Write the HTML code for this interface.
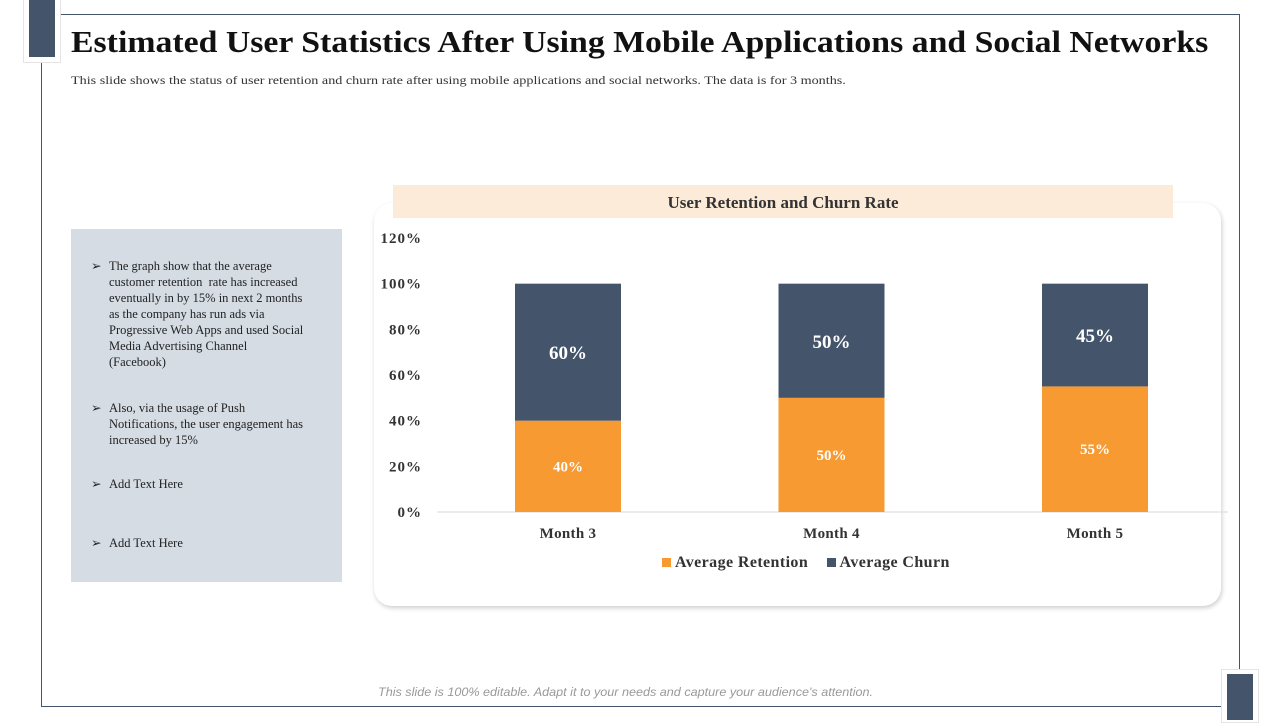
<!DOCTYPE html>
<html><head><meta charset="utf-8"><style>
body{margin:0;width:1280px;height:720px;position:relative;background:#fff;font-family:"Liberation Serif",serif;overflow:hidden}
.abs{position:absolute}
</style></head><body>
<div class="abs" style="left:41px;top:14px;width:1197px;height:691px;border:1px solid #44546a"></div>
<div class="abs" style="left:23px;top:0;width:36px;height:62px;background:#fff;border:1px solid #e4e4e4;border-top:none"></div>
<div class="abs" style="left:29px;top:0;width:26px;height:57px;background:#44546a"></div>
<div class="abs" style="left:1221px;top:669px;width:36px;height:52px;background:#fff;border:1px solid #e4e4e4"></div>
<div class="abs" style="left:1227px;top:674px;width:26px;height:46px;background:#44546a"></div>
<div class="abs" style="left:71px;top:24px;font-size:31px;font-weight:bold;color:#111;white-space:nowrap;transform:scaleX(1.09);transform-origin:left">Estimated User Statistics After Using Mobile Applications and Social Networks</div>
<div class="abs" style="left:71px;top:73px;font-size:12px;color:#333;white-space:nowrap;transform:scaleX(1.18);transform-origin:left">This slide shows the status of user retention and churn rate after using mobile applications and social networks. The data is for 3 months.</div>
<div class="abs" style="left:71px;top:229px;width:271px;height:353px;background:#d6dce4;font-size:12.5px;color:#222;line-height:16px">
 <div class="abs" style="left:20px;top:29px;width:195px;padding-left:18px">
  <span style="position:absolute;left:0">➢</span>The graph show that the average customer retention&nbsp; rate has increased eventually in by 15% in next 2 months as the company has run ads via Progressive Web Apps and used Social Media Advertising Channel (Facebook)</div>
 <div class="abs" style="left:20px;top:171px;width:195px;padding-left:18px"><span style="position:absolute;left:0">➢</span>Also, via the usage of Push Notifications, the user engagement has increased by 15%</div>
 <div class="abs" style="left:20px;top:247px;width:195px;padding-left:18px"><span style="position:absolute;left:0">➢</span>Add Text Here</div>
 <div class="abs" style="left:20px;top:306px;width:195px;padding-left:18px"><span style="position:absolute;left:0">➢</span>Add Text Here</div>
</div>
<div class="abs" style="left:374px;top:203px;width:847px;height:403px;border-radius:18px;box-shadow:1px 2px 5px rgba(0,0,0,0.2);background:#fff"></div>
<div class="abs" style="left:393px;top:185px;width:780px;height:33px;background:#fdebd9;text-align:center;line-height:35px;font-size:17px;font-weight:bold;color:#333">User Retention and Churn Rate</div>
<svg class="abs" style="left:0;top:0" width="1280" height="720" id="chart"></svg>
<div class="abs" style="left:662px;top:554px;font-size:16px;letter-spacing:0.4px;font-weight:bold;color:#333;white-space:nowrap">
 <span><span style="display:inline-block;width:9px;height:9px;background:#f79a32;margin-right:4px"></span>Average Retention</span>
 <span style="margin-left:14px"><span style="display:inline-block;width:9px;height:9px;background:#44546a;margin-right:4px"></span>Average Churn</span>
</div>
<div class="abs" style="left:378px;top:685px;font-family:'Liberation Sans',sans-serif;font-style:italic;font-size:12px;color:#999;transform:scaleX(1.05);transform-origin:left;white-space:nowrap">This slide is 100% editable. Adapt it to your needs and capture your audience's attention.</div>
<script>
const categories=["Month 3","Month 4","Month 5"];
const retention=[40,50,55];
const churn=[60,50,45];
const ticks=[0,20,40,60,80,100,120];
const svg=document.getElementById('chart');
const NS='http://www.w3.org/2000/svg';
const y=v=>512-v*(274/120);
const xc=i=>568+i*263.5;
function mk(t,a,txt){const e=document.createElementNS(NS,t);for(const k in a)e.setAttribute(k,a[k]);if(txt!==undefined)e.textContent=txt;svg.appendChild(e);return e;}
ticks.forEach(t=>{const e=mk('text',{x:422,y:y(t)+5,'text-anchor':'end','font-size':15,'font-weight':'bold','letter-spacing':1,fill:'#333','font-family':'Liberation Serif,serif'},t+'%');

});
const ax=mk('line',{x1:437,x2:1228,y1:512,y2:512,stroke:'#d9d9d9'});


categories.forEach((c,i)=>{
 const r=mk('rect',{x:xc(i)-53,width:106,y:y(retention[i]),height:y(0)-y(retention[i]),fill:'#f79a32'});
 
 
 const top=retention[i]+churn[i];
 const ch=mk('rect',{x:xc(i)-53,width:106,y:y(top),height:y(retention[i])-y(top),fill:'#44546a'});
 
 
 const l1=mk('text',{x:xc(i),y:(y(0)+y(retention[i]))/2+5,'text-anchor':'middle','font-size':15,'font-weight':'bold',fill:'#fff','font-family':'Liberation Serif,serif'},retention[i]+'%');
 
 
 const l2=mk('text',{x:xc(i),y:(y(top)+y(retention[i]))/2+7,'text-anchor':'middle','font-size':19,'font-weight':'bold',fill:'#fff','font-family':'Liberation Serif,serif'},churn[i]+'%');
 
 
 const cl=mk('text',{x:xc(i),y:538,'text-anchor':'middle','font-size':15,'font-weight':'bold','letter-spacing':0.3,fill:'#333','font-family':'Liberation Serif,serif'},c);
 
 
});
</script>
</body></html>
